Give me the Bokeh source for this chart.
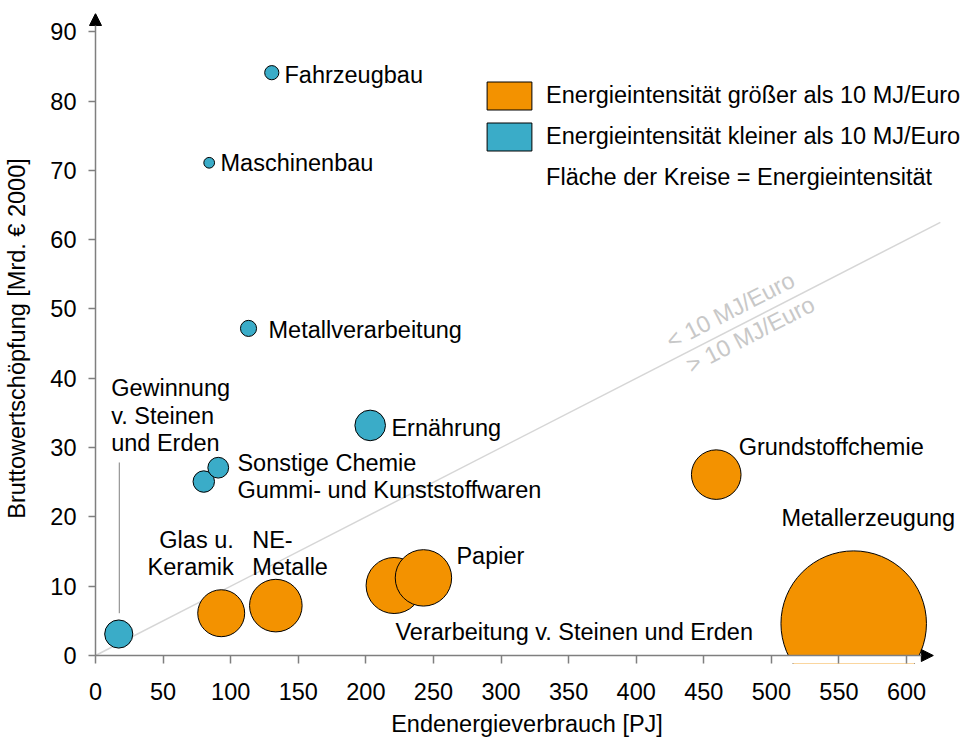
import math
from bokeh.plotting import figure
from bokeh.models import (ColumnDataSource, Range1d, FixedTicker, Arrow, NormalHead,
                          Legend, LegendItem, CDSView, GroupFilter)
from bokeh.core.properties import value
from bokeh.embed import file_html
from bokeh.resources import INLINE

# ---------------- data ----------------
sectors = ["Fahrzeugbau", "Maschinenbau", "Metallverarbeitung", "Ernährung",
           "Gummi- und Kunststoffwaren", "Sonstige Chemie",
           "Gewinnung v. Steinen und Erden", "Glas u. Keramik", "NE-Metalle",
           "Verarbeitung v. Steinen und Erden", "Papier", "Grundstoffchemie",
           "Metallerzeugung"]
energy_pj = [130.4, 84.1, 113.2, 203.2, 80.1, 90.8, 17.2, 93.0, 133.4, 220.9, 242.6, 459.2, 560.9]
value_added = [84.1, 71.1, 47.2, 33.2, 25.1, 27.1, 3.1, 6.1, 7.2, 10.1, 11.2, 26.1, 4.6]
intensity = [1.4, 0.8, 1.8, 6.5, 3.2, 3.0, 5.5, 15.3, 19.2, 21.8, 22.1, 17.1, 147.0]

label_text = ["Fahrzeugbau", "Maschinenbau", "Metallverarbeitung", "Ernährung",
              "Gummi- und Kunststoffwaren", "Sonstige Chemie",
              "Gewinnung\nv. Steinen\nund Erden", "Glas u.\nKeramik", "NE-\nMetalle",
              "Verarbeitung v. Steinen und Erden", "Papier", "Grundstoffchemie",
              "Metallerzeugung"]
label_x = [139.8, 92.5, 128.0, 218.9, 105.0, 105.0, 11.6, 102.3, 115.9, 221.9, 267.0, 475.8, 507.4]
label_y = [83.8, 71.1, 47.0, 32.9, 23.9, 27.8, 38.6, 16.7, 16.7, 3.4, 14.4, 30.1, 19.8]
label_align = ["left", "left", "left", "left", "left", "left", "left", "right", "left",
               "left", "left", "left", "left"]

x_ticks = [0, 50, 100, 150, 200, 250, 300, 350, 400, 450, 500, 550, 600]
y_ticks = [0, 10, 20, 30, 40, 50, 60, 70, 80, 90]

threshold = 10  # MJ/Euro
ref_x = [0, 625]

legend_labels = ["Energieintensität größer als 10 MJ/Euro",
                 "Energieintensität kleiner als 10 MJ/Euro",
                 "Fläche der Kreise = Energieintensität"]

# ---------------- styles ----------------
ORANGE = "#F39200"
BLUE = "#3AACC8"
FONT = "Liberation Sans"
FS = "23.5px"
AXIS_GRAY = "#7f7f7f"
X_START, X_END = -5.18, 643.6
Y_START, Y_END = -1.154, 92.64
X_ARROW = 619.8
LINE_STEP = 4.0

p = figure(width=965, height=743, x_range=Range1d(X_START, X_END),
           y_range=Range1d(Y_START, Y_END),
           output_backend="svg", toolbar_location=None,
           min_border_left=88, min_border_right=0, min_border_top=13, min_border_bottom=80)
p.xgrid.visible = False
p.ygrid.visible = False
p.outline_line_color = None

for ax, ticks in ((p.xaxis, x_ticks), (p.yaxis, y_ticks)):
    ax.ticker = FixedTicker(ticks=ticks)
    ax.axis_line_color = None
    ax.major_tick_out = 0
    ax.minor_tick_in = 0
    ax.minor_tick_out = 0
    ax.major_tick_line_color = AXIS_GRAY
    ax.major_tick_line_width = 1.5
    ax.major_label_text_font = FONT
    ax.major_label_text_font_size = FS
    ax.major_label_text_color = "black"
    ax.axis_label_text_font = FONT
    ax.axis_label_text_font_size = FS
    ax.axis_label_text_font_style = "normal"
    ax.axis_label_text_color = "black"

p.xaxis.major_tick_in = 8
p.xaxis.major_label_standoff = 19
p.xaxis.axis_label = "Endenergieverbrauch [PJ]"
p.xaxis.axis_label_standoff = 8
p.yaxis.major_tick_in = 7
p.yaxis.major_label_standoff = 12
p.yaxis.axis_label = "Bruttowertschöpfung [Mrd. € 2000]"
p.yaxis.axis_label_standoff = 17

# reference line (10 MJ/Euro)
p.line(x=ref_x, y=[x / threshold for x in ref_x], line_color="#d6d6d6", line_width=1.5)
p.text(x=[469.7, 484.5], y=[49.8, 46.3], text=["< 10 MJ/Euro", "> 10 MJ/Euro"],
       angle=math.atan(0.513), text_align="center", text_baseline="middle",
       text_color="#c8c8c8", text_font=value(FONT), text_font_size=FS)

# leader line for "Gewinnung"
gi = sectors.index("Gewinnung v. Steinen und Erden")
p.line(x=[energy_pj[gi] + 0.4] * 2, y=[27.85, 6.1], line_color="#808080", line_width=1)

# bubbles
src = ColumnDataSource(dict(
    x=energy_pj, y=value_added,
    size=[12 * math.sqrt(v) for v in intensity],
    color=[ORANGE if v > threshold else BLUE for v in intensity],
))

# zero-size renderers (hidden under the bubbles) used only as legend swatches
r_or = p.quad(left="x", right="x", top="y", bottom="y", source=src,
              view=CDSView(filter=GroupFilter(column_name="color", group=ORANGE)),
              fill_color=ORANGE, line_color="black", line_width=1)
r_bl = p.quad(left="x", right="x", top="y", bottom="y", source=src,
              view=CDSView(filter=GroupFilter(column_name="color", group=BLUE)),
              fill_color=BLUE, line_color="black", line_width=1)
r_no = p.quad(left="x", right="x", top="y", bottom="y", source=src,
              fill_alpha=0, line_alpha=0)

p.scatter(x="x", y="y", size="size", fill_color="color", line_color="black",
          line_width=1, source=src)

# white mask below the x axis: bubbles are cut at the axis
p.quad(left=[X_START], right=[X_END], bottom=[Y_START], top=[0],
       fill_color="white", line_alpha=0)

# labels (split multi-line labels)
lx, ly, lt, la = [], [], [], []
for t, x, y, a in zip(label_text, label_x, label_y, label_align):
    for i, line in enumerate(t.split("\n")):
        lx.append(x)
        ly.append(y - i * LINE_STEP)
        lt.append(line)
        la.append(a)
p.text(x="x", y="y", text="t", text_align="a", text_baseline="middle",
       text_font=value(FONT), text_font_size=FS, text_color="black",
       source=ColumnDataSource(dict(x=lx, y=ly, t=lt, a=la)))

# axis arrows
p.add_layout(Arrow(end=NormalHead(size=12, fill_color="black", line_color="black"),
                   x_start=0, y_start=0, x_end=0, y_end=Y_END,
                   line_color=AXIS_GRAY, line_width=1.5))
p.add_layout(Arrow(end=NormalHead(size=12, fill_color="black", line_color="black"),
                   x_start=0, y_start=0, x_end=X_ARROW, y_end=0,
                   line_color=AXIS_GRAY, line_width=1.5))

# legend
legend = Legend(items=[LegendItem(label=legend_labels[0], renderers=[r_or]),
                       LegendItem(label=legend_labels[1], renderers=[r_bl]),
                       LegendItem(label=legend_labels[2], renderers=[r_no])],
                location=(393.1, 468), glyph_width=56, glyph_height=35,
                label_standoff=9, spacing=6, padding=0, margin=0,
                border_line_color=None, background_fill_alpha=0,
                label_text_font=FONT, label_text_font_size=FS, label_text_color="black")
p.add_layout(legend)

open("out.html", "w").write(file_html(p, INLINE))
